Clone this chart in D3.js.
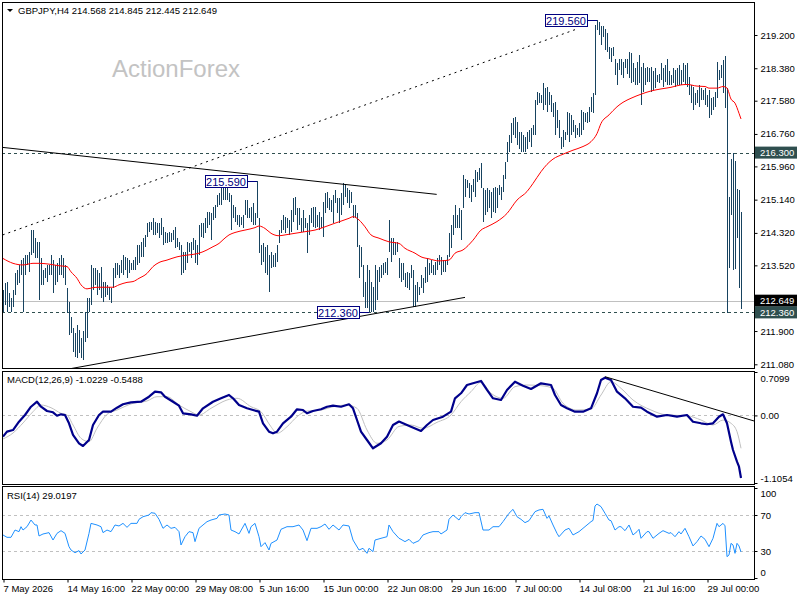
<!DOCTYPE html>
<html>
<head>
<meta charset="utf-8">
<title>GBPJPY H4</title>
<script src="https://d3js.org/d3.v7.min.js"></script>
<style>
  body { margin: 0; background: #fff; }
  svg text { font-family: "Liberation Sans", Arial, sans-serif; }
</style>
</head>
<body>
<svg width="800" height="600"></svg>
<script>
// ---- data ----
var symbolTitle = "GBPJPY,H4  214.568 214.845 212.445 212.649";

// H4 bar highs / lows, one per bar
var barHigh = [
  212.91, 213.08, 213.12, 212.83, 212.71, 212.91, 213.32, 213.41, 213.53, 213.65,
  213.69, 213.78, 213.78, 213.86, 214.39, 214.39, 214.19, 214.10, 214.10, 213.69,
  213.41, 213.45, 213.53, 213.53, 213.78, 213.65, 213.53, 213.57, 213.69, 213.78,
  213.69, 213.53, 212.95, 212.62, 212.25, 211.97, 211.84, 212.05, 211.93, 211.72,
  211.89, 212.38, 212.71, 212.71, 213.53, 213.45, 213.45, 213.41, 213.32, 213.49,
  213.12, 213.12, 213.04, 212.99, 212.95, 213.45, 213.57, 213.57, 213.53, 213.65,
  213.78, 213.73, 213.69, 213.65, 213.57, 213.65, 213.73, 214.02, 214.02, 214.10,
  214.19, 214.27, 214.56, 214.60, 214.60, 214.68, 214.60, 214.56, 214.56, 214.68,
  214.47, 214.35, 214.31, 214.35, 214.31, 214.39, 214.47, 214.19, 214.10, 214.02,
  213.86, 213.86, 214.10, 214.06, 214.10, 214.19, 214.15, 214.02, 214.52, 214.56,
  214.56, 214.68, 214.84, 214.84, 214.80, 214.97, 215.01, 215.26, 215.30, 215.42,
  215.54, 215.46, 215.42, 215.30, 215.26, 215.01, 214.97, 214.76, 214.76, 214.72,
  214.76, 215.13, 215.13, 214.93, 214.97, 215.05, 214.80, 215.59, 214.68, 214.02,
  214.06, 213.98, 214.02, 213.78, 213.86, 213.78, 213.82, 214.02, 214.39, 214.64,
  214.76, 214.72, 214.68, 214.64, 214.89, 215.17, 215.21, 214.93, 214.93, 214.68,
  214.89, 214.68, 214.56, 214.76, 214.93, 214.97, 214.97, 214.76, 214.84, 214.72,
  215.09, 215.30, 215.34, 215.17, 215.13, 215.26, 215.38, 215.17, 215.17, 215.30,
  215.54, 215.50, 215.42, 215.38, 215.34, 215.01, 215.01, 214.80, 214.02, 213.98,
  213.53, 213.12, 213.53, 213.41, 213.12, 212.99, 213.53, 213.41, 213.49, 213.53,
  213.57, 213.61, 213.69, 214.64, 214.19, 214.19, 214.10, 214.10, 213.69, 213.57,
  213.57, 213.32, 213.36, 213.32, 213.53, 213.41, 213.04, 213.12, 212.99, 213.28,
  213.20, 213.49, 213.69, 213.57, 213.65, 213.53, 213.61, 213.69, 213.78, 213.73,
  213.65, 213.65, 213.78, 214.31, 214.51, 214.76, 215.01, 214.76, 214.93, 214.89,
  215.75, 215.66, 215.62, 215.54, 215.50, 215.66, 215.87, 215.83, 215.91, 216.04,
  215.42, 215.38, 215.42, 215.38, 215.34, 215.42, 215.46, 215.42, 215.50, 215.46,
  215.75, 216.08, 216.57, 216.73, 217.02, 217.15, 217.19, 217.06, 216.82, 216.82,
  216.73, 216.69, 216.82, 216.86, 216.90, 216.98, 217.60, 217.80, 217.76, 217.72,
  218.01, 217.89, 217.93, 217.80, 217.72, 217.52, 217.56, 217.35, 217.10, 216.69,
  216.86, 216.82, 217.31, 217.27, 217.23, 217.10, 216.98, 216.90, 217.02, 217.35,
  217.31, 217.27, 217.31, 217.43, 217.68, 217.76, 219.45, 219.56, 219.53, 219.41,
  219.41, 219.36, 219.24, 218.91, 218.87, 218.91, 218.62, 218.50, 218.62, 218.62,
  218.54, 218.62, 218.62, 218.79, 218.75, 218.50, 218.38, 218.54, 218.71, 218.42,
  218.50, 218.38, 218.42, 218.38, 218.42, 218.30, 218.38, 218.21, 218.25, 218.50,
  218.38, 218.46, 218.62, 218.30, 218.21, 218.38, 218.34, 218.38, 218.46, 218.34,
  218.50, 218.46, 218.50, 218.17, 217.97, 217.93, 217.76, 217.84, 217.97, 217.89,
  217.84, 217.89, 217.72, 217.84, 217.64, 217.68, 217.80, 218.54, 218.34, 218.46,
  218.58, 218.68, 217.90, 215.20, 216.15, 216.30, 216.10, 215.40, 215.38, 214.845
];
var barLow = [
  212.37, 212.54, 212.36, 212.50, 212.37, 212.50, 212.79, 213.04, 213.08, 213.28,
  212.37, 213.28, 213.53, 213.36, 213.78, 213.82, 213.69, 213.69, 212.67, 213.04,
  213.04, 213.20, 213.12, 213.28, 213.28, 212.83, 213.04, 213.12, 213.28, 213.28,
  213.20, 213.04, 212.34, 211.80, 211.84, 211.39, 211.27, 211.23, 211.35, 211.23,
  211.19, 211.64, 211.72, 212.38, 212.54, 212.91, 213.04, 212.79, 212.91, 212.71,
  212.62, 212.75, 212.79, 212.67, 212.58, 212.95, 213.20, 213.28, 213.20, 213.32,
  213.28, 213.41, 213.20, 213.32, 213.41, 213.41, 213.41, 213.53, 213.57, 213.73,
  213.73, 213.98, 214.23, 214.35, 214.39, 214.27, 214.27, 214.31, 214.19, 214.27,
  214.02, 214.06, 214.06, 214.10, 214.10, 214.15, 213.94, 213.98, 213.90, 213.28,
  213.32, 213.41, 213.57, 213.86, 213.69, 213.90, 213.57, 213.53, 213.78, 214.23,
  214.19, 214.31, 214.43, 214.52, 214.15, 214.64, 214.68, 214.97, 215.01, 215.01,
  215.13, 215.13, 215.13, 215.09, 214.39, 214.68, 214.60, 214.52, 214.47, 214.52,
  214.43, 214.76, 214.68, 214.68, 214.60, 214.52, 214.52, 214.68, 213.82, 213.53,
  213.61, 213.32, 213.28, 212.87, 213.45, 213.49, 213.49, 213.61, 214.06, 214.31,
  214.39, 214.31, 214.43, 214.27, 214.35, 214.60, 214.76, 214.39, 214.52, 214.35,
  214.35, 214.43, 213.82, 214.27, 214.56, 214.47, 214.43, 214.47, 214.39, 214.43,
  214.23, 214.80, 214.93, 214.89, 214.84, 214.56, 215.05, 214.80, 214.56, 214.76,
  215.01, 215.21, 215.05, 214.93, 215.05, 214.68, 214.68, 213.98, 213.20, 213.49,
  212.75, 212.46, 212.46, 212.36, 212.38, 212.38, 212.42, 212.67, 213.12, 213.20,
  213.28, 213.32, 213.28, 213.86, 213.61, 213.78, 213.78, 213.86, 213.20, 213.12,
  213.16, 212.99, 212.95, 212.91, 213.20, 212.50, 212.50, 212.62, 212.79, 212.95,
  212.83, 213.08, 213.12, 213.28, 213.32, 213.28, 213.28, 213.41, 213.53, 213.28,
  213.36, 213.36, 213.53, 213.73, 213.94, 214.27, 214.43, 214.43, 214.43, 214.14,
  214.93, 215.21, 215.42, 215.17, 215.09, 215.34, 215.21, 215.58, 215.62, 215.42,
  214.60, 214.76, 214.84, 214.93, 214.68, 214.84, 214.80, 214.93, 215.25, 215.13,
  215.34, 215.66, 216.08, 216.32, 216.53, 216.73, 216.65, 216.49, 216.40, 216.32,
  216.32, 216.32, 216.40, 216.57, 216.45, 216.73, 216.73, 217.47, 217.52, 217.52,
  217.35, 217.47, 217.31, 217.47, 217.31, 217.19, 216.73, 216.90, 216.65, 216.40,
  216.45, 216.61, 216.73, 216.57, 216.73, 216.82, 216.65, 216.73, 216.69, 216.73,
  216.86, 217.06, 217.02, 217.06, 217.31, 217.27, 217.72, 219.32, 219.20, 218.95,
  219.16, 218.83, 218.79, 218.62, 218.54, 218.67, 218.21, 217.97, 218.34, 218.21,
  218.13, 218.38, 218.25, 218.13, 218.01, 218.05, 217.97, 217.97, 218.01, 217.47,
  217.80, 217.97, 218.05, 218.05, 217.80, 217.84, 217.89, 218.05, 218.01, 218.09,
  217.93, 218.05, 217.97, 217.97, 217.97, 218.01, 217.93, 217.97, 217.97, 217.97,
  218.05, 217.97, 217.93, 217.72, 217.52, 217.35, 217.47, 217.52, 217.43, 217.60,
  217.60, 217.47, 217.43, 217.15, 217.23, 217.35, 217.43, 217.65, 218.09, 218.13,
  217.76, 217.40, 212.34, 213.45, 214.75, 213.40, 213.42, 214.20, 212.95, 212.445
];

// red moving average, sampled at bar indices
var maIdx = [0, 5, 10, 15, 18, 23, 28, 32, 34, 37, 39, 42, 45, 48, 55, 58, 62, 65, 68, 72,
  75, 78, 82, 87, 90, 95, 98, 102, 105, 108, 110, 113, 116, 121, 126, 128, 131, 134, 138, 141,
  146, 151, 156, 161, 166, 169, 173, 175, 178, 181, 184, 188, 193, 198, 201, 206, 209, 213, 218, 223,
  226, 230, 235, 239, 242, 247, 252, 257, 262, 265, 269, 272, 275, 280, 285, 290, 294, 297, 299, 303,
  307, 310, 314, 319, 324, 329, 334, 339, 342, 347, 351, 353, 357, 360, 362, 364, 366, 368, 369];
var maVal = [213.69, 213.57, 213.53, 213.57, 213.57, 213.55, 213.51, 213.49, 213.36, 213.20,
  213.04, 212.94, 212.97, 212.98, 212.98, 213.04, 213.10, 213.12, 213.20, 213.32,
  213.49, 213.59, 213.65, 213.73, 213.76, 213.79, 213.82, 213.90, 213.98, 214.06,
  214.15, 214.27, 214.33, 214.39, 214.45, 214.49, 214.43, 214.31, 214.25, 214.27,
  214.31, 214.35, 214.39, 214.47, 214.56, 214.61, 214.68, 214.72, 214.64, 214.47,
  214.27, 214.19, 214.10, 214.06, 213.94, 213.82, 213.73, 213.68, 213.63, 213.65,
  213.82, 213.90, 214.14, 214.39, 214.47, 214.60, 214.80, 215.13, 215.34, 215.54,
  215.83, 216.01, 216.14, 216.26, 216.36, 216.45, 216.57, 216.77, 217.02, 217.23,
  217.43, 217.54, 217.64, 217.74, 217.82, 217.87, 217.91, 217.97, 217.98, 217.94,
  217.93, 217.89, 217.89, 217.93, 217.89, 217.62, 217.52, 217.27, 217.13];

// MACD(12,26,9) main and signal
var macdIdx = [0, 2, 5, 8, 11, 14, 17, 19, 22, 25, 27, 29, 31, 33, 35, 38, 40, 43, 45, 48,
  50, 54, 57, 60, 64, 69, 73, 76, 79, 81, 85, 88, 90, 94, 97, 100, 105, 109, 113, 115,
  118, 122, 125, 128, 130, 133, 135, 137, 140, 144, 147, 150, 152, 155, 159, 162, 165, 169, 173, 175,
  177, 179, 182, 185, 189, 192, 195, 198, 204, 209, 212, 215, 220, 224, 226, 229, 232, 235, 239, 242,
  245, 249, 252, 256, 260, 264, 269, 274, 276, 279, 282, 286, 290, 294, 297, 299, 301, 304, 307, 311,
  315, 319, 322, 327, 332, 337, 342, 345, 349, 352, 355, 358, 360, 362, 364, 365, 367, 368, 369];
var macdMain = [-0.348, -0.266, -0.239, -0.103, 0.007, 0.142, 0.224, 0.142, 0.072, 0.051,
  -0.005, 0.018, 0.007, -0.129, -0.320, -0.456, -0.500, -0.402, -0.157, 0.007,
  0.061, 0.061, 0.126, 0.182, 0.214, 0.224, 0.306, 0.388, 0.378, 0.306,
  0.224, 0.159, 0.034, 0.018, -0.005, 0.116, 0.224, 0.280, 0.334, 0.280,
  0.170, 0.116, 0.088, 0.061, -0.129, -0.266, -0.293, -0.266, -0.129, -0.021,
  0.100, 0.088, 0.035, 0.072, 0.100, 0.142, 0.159, 0.142, 0.182, 0.116,
  -0.075, -0.266, -0.402, -0.538, -0.456, -0.348, -0.157, -0.100, -0.185, -0.255,
  -0.157, -0.075, -0.021, 0.061, 0.280, 0.362, 0.497, 0.525, 0.563, 0.416,
  0.280, 0.252, 0.416, 0.551, 0.486, 0.432, 0.525, 0.497, 0.334, 0.170,
  0.116, 0.061, 0.061, 0.116, 0.362, 0.579, 0.617, 0.579, 0.388, 0.280,
  0.142, 0.126, 0.061, -0.021, 0.007, -0.021, 0.007, -0.103, -0.129, -0.145,
  -0.129, -0.021, 0.018, -0.129, -0.430, -0.566, -0.757, -0.839, -1.023];
var sigIdx = [0, 5, 10, 15, 19, 24, 29, 32, 35, 39, 43, 47, 52, 57, 65, 72, 77, 82, 88, 94,
  98, 104, 112, 117, 124, 129, 134, 137, 142, 147, 152, 159, 165, 172, 177, 182, 187, 192, 198, 204,
  210, 217, 224, 229, 234, 239, 244, 250, 256, 262, 269, 275, 280, 287, 294, 299, 304, 309, 315, 324,
  332, 342, 349, 355, 360, 364, 367, 369];
var sigVal = [-0.386, -0.288, -0.124, 0.061, 0.170, 0.126, 0.035, 0.007, -0.157, -0.374,
  -0.430, -0.211, 0.018, 0.088, 0.198, 0.236, 0.306, 0.306, 0.170, 0.061,
  0.007, 0.116, 0.252, 0.280, 0.142, 0.061, -0.185, -0.293, -0.185, -0.021,
  0.072, 0.088, 0.142, 0.170, 0.116, -0.239, -0.456, -0.402, -0.180, -0.157,
  -0.211, -0.113, 0.007, 0.224, 0.388, 0.541, 0.362, 0.280, 0.470, 0.497,
  0.486, 0.443, 0.198, 0.088, 0.105, 0.334, 0.551, 0.443, 0.252, 0.088,
  0.007, -0.005, -0.075, -0.157, -0.075, -0.129, -0.266, -0.538];
var macdLast = "-1.0229", signalLast = "-0.5488";

// RSI(14)
var rsiIdx = [0, 2, 4, 6, 8, 9, 10, 12, 14, 16, 17, 18, 20, 23, 25, 27, 29, 31, 33, 34,
  36, 38, 39, 41, 43, 44, 47, 49, 50, 52, 54, 56, 58, 60, 62, 64, 67, 68, 70, 73,
  74, 76, 78, 80, 82, 84, 86, 88, 89, 91, 93, 95, 96, 98, 100, 102, 104, 107, 108, 111,
  113, 114, 116, 118, 121, 123, 124, 126, 128, 129, 131, 133, 134, 137, 139, 142, 145, 148, 150, 152,
  154, 157, 159, 161, 163, 165, 168, 170, 173, 175, 178, 180, 182, 183, 185, 186, 189, 192, 193, 195,
  198, 199, 201, 203, 205, 208, 210, 213, 215, 218, 219, 222, 223, 225, 228, 229, 231, 233, 236, 238,
  240, 243, 245, 248, 250, 253, 255, 257, 259, 261, 263, 266, 268, 270, 272, 273, 275, 277, 278, 281,
  283, 285, 288, 290, 292, 294, 295, 296, 297, 299, 301, 303, 304, 306, 308, 309, 311, 313, 315, 317,
  318, 319, 322, 323, 325, 328, 330, 333, 334, 336, 338, 339, 341, 343, 345, 347, 349, 351, 353, 355,
  357, 358, 360, 361, 362, 363, 364, 365, 366, 367, 368, 369];
var rsiVal = [47.8, 45.2, 45.2, 53.3, 51.5, 57.0, 53.3, 57.0, 64.4, 58.9, 58.9, 46.7, 48.9, 50.4, 42.2, 49.6, 52.6, 49.6, 34.8, 31.1,
  28.1, 30.4, 26.7, 31.1, 49.6, 60.7, 58.9, 57.0, 50.4, 53.3, 51.5, 58.9, 57.8, 60.7, 56.3, 60.7, 60.7, 65.2, 68.1, 70.0,
  72.6, 71.9, 65.2, 55.2, 58.9, 55.2, 56.3, 51.5, 36.7, 45.9, 51.5, 50.4, 40.4, 55.2, 58.9, 62.6, 64.4, 66.3, 70.0, 71.1,
  70.0, 53.3, 51.5, 48.9, 60.7, 49.6, 57.0, 60.7, 45.9, 34.8, 39.3, 31.1, 38.5, 42.2, 54.1, 57.0, 57.0, 58.9, 53.3, 41.5,
  55.2, 55.2, 57.0, 60.0, 54.1, 58.9, 53.3, 58.9, 57.8, 42.2, 31.1, 33.0, 27.4, 33.0, 29.3, 42.2, 44.1, 45.9, 58.9, 51.5,
  44.1, 43.0, 40.4, 43.0, 38.5, 41.5, 47.8, 50.4, 51.5, 51.5, 48.9, 53.3, 65.2, 70.0, 64.4, 68.1, 72.6, 71.1, 72.6, 72.6,
  53.3, 53.3, 57.0, 57.0, 62.6, 71.9, 76.3, 68.1, 65.2, 61.5, 63.7, 73.7, 75.6, 76.3, 66.3, 68.9, 58.9, 49.6, 45.9, 53.3,
  55.2, 47.8, 51.5, 55.2, 58.9, 62.6, 64.0, 80.0, 82.2, 79.3, 71.9, 64.4, 63.7, 53.3, 57.0, 57.0, 52.6, 58.9, 47.8, 51.5,
  54.1, 44.1, 51.5, 51.5, 44.1, 49.6, 52.6, 49.6, 50.4, 45.9, 51.5, 48.9, 55.2, 45.9, 35.6, 40.4, 46.7, 43.0, 34.8, 44.1,
  60.7, 57.0, 60.7, 58.0, 23.7, 25.6, 38.5, 36.7, 27.4, 38.5, 35.6, 29.0];
var rsiLast = "29.0197";

// axis ticks
var priceTicks = [219.200, 218.380, 217.580, 216.760, 215.960, 215.140, 214.320, 213.520, 211.900, 211.080];
var timeIdx = [0, 32, 64, 96, 128, 160, 192, 224, 256, 288, 320, 352];
var timeLabels = ["7 May 2026", "14 May 16:00", "22 May 00:00", "29 May 08:00", "5 Jun 16:00",
  "15 Jun 00:00", "22 Jun 08:00", "29 Jun 16:00", "7 Jul 00:00", "14 Jul 08:00", "21 Jul 16:00", "29 Jul 00:00"];

// drawn objects: [bar1, price1, bar2, price2]
var channelLine = [-0.15, 214.27, 286.5, 219.34];
var upperTrend = [-0.5, 216.43, 216.85, 215.27];
var lowerTrend = [33.5, 210.97, 231, 212.73];
var macdTrend = [301, 0.633, 375.5, -0.091];
var levelLines = [216.30, 212.36];
var bidPrice = 212.649;
var pointLabels = [{bar: 127, price: 215.59}, {bar: 297, price: 219.56}, {bar: 183, price: 212.36}];

// ---- layout ----
var svg = d3.select("svg");
var L = 2, R = 754;
var mainTop = 2, mainBot = 368;
var macdTop = 371, macdBot = 484;
var rsiTop = 486, rsiBot = 579;

var x = d3.scaleLinear().domain([0, 369]).range([3, 741]);
var y = d3.scaleLinear().domain([211.08, 219.2]).range([364.3, 35]);
var yMacd = d3.scaleLinear().domain([-1.1054, 0.7099]).range([483, 372]);
var yRsi = d3.scaleLinear().domain([0, 100]).range([578, 488]);

var defs = svg.append("defs");
function clip(id, top, bot) {
  defs.append("clipPath").attr("id", id)
    .append("rect").attr("x", L + 0.5).attr("y", top + 0.5)
    .attr("width", R - L - 0.5).attr("height", bot - top - 0.5);
}
clip("cMain", mainTop, mainBot);
clip("cMacd", macdTop, macdBot);
clip("cRsi", rsiTop, rsiBot);

var cx = function(i) { return Math.round(x(i)) + 0.5; };

// ---- main panel ----
var gMain = svg.append("g").attr("clip-path", "url(#cMain)");

gMain.append("text")
  .attr("x", 112).attr("y", 77)
  .attr("font-size", 24).attr("fill", "#c3c3c3")
  .text("ActionForex");

// bid line behind the bars
gMain.append("line")
  .attr("x1", L).attr("x2", R)
  .attr("y1", Math.round(y(bidPrice)) + 0.5).attr("y2", Math.round(y(bidPrice)) + 0.5)
  .attr("stroke", "#c0c0c0");

gMain.selectAll(".level").data(levelLines).enter().append("line")
  .attr("x1", L).attr("x2", R)
  .attr("y1", function(d) { return Math.round(y(d)) + 0.5; })
  .attr("y2", function(d) { return Math.round(y(d)) + 0.5; })
  .attr("stroke", "#2f4f4f").attr("stroke-dasharray", "3,3");

gMain.selectAll(".bar").data(barHigh).enter().append("line")
  .attr("x1", function(d, i) { return cx(i); })
  .attr("x2", function(d, i) { return cx(i); })
  .attr("y1", function(d) { return y(d); })
  .attr("y2", function(d, i) { return y(barLow[i]); })
  .attr("stroke", "#174360").attr("stroke-width", 1)
  .attr("shape-rendering", "crispEdges");

var lineGen = d3.line()
  .x(function(d) { return x(d[0]); })
  .y(function(d) { return y(d[1]); })
  .curve(d3.curveMonotoneX);

gMain.append("path")
  .datum(d3.zip(maIdx, maVal))
  .attr("d", lineGen)
  .attr("fill", "none").attr("stroke", "#ff0000").attr("stroke-width", 1);

function segment(g, s, ys, dash) {
  g.append("line")
    .attr("x1", x(s[0])).attr("y1", ys(s[1]))
    .attr("x2", x(s[2])).attr("y2", ys(s[3]))
    .attr("stroke", "#000").attr("stroke-width", 1)
    .attr("stroke-dasharray", dash || null);
}
segment(gMain, channelLine, y, "2,4");
segment(gMain, upperTrend, y);
segment(gMain, lowerTrend, y);

// price labels of swing points
pointLabels.forEach(function(p) {
  var bx = x(p.bar), by = y(p.price);
  var g = gMain.append("g");
  g.append("line")
    .attr("x1", bx - 10).attr("x2", bx).attr("y1", Math.round(by) + 0.5).attr("y2", Math.round(by) + 0.5)
    .attr("stroke", "#000080");
  g.append("rect")
    .attr("x", Math.round(bx - 52) + 0.5).attr("y", Math.round(by - 6) + 0.5)
    .attr("width", 42).attr("height", 12)
    .attr("fill", "#fff").attr("stroke", "#000080");
  g.append("text")
    .attr("x", bx - 31).attr("y", by + 4.5)
    .attr("text-anchor", "middle").attr("font-size", 11).attr("fill", "#000080")
    .text(p.price.toFixed(3));
});

// ---- MACD panel ----
var gMacd = svg.append("g").attr("clip-path", "url(#cMacd)");
gMacd.append("line")
  .attr("x1", L).attr("x2", R)
  .attr("y1", Math.round(yMacd(0)) + 0.5).attr("y2", Math.round(yMacd(0)) + 0.5)
  .attr("stroke", "#c0c0c0").attr("stroke-dasharray", "3,3");

var macdLine = d3.line()
  .x(function(d) { return x(d[0]); })
  .y(function(d) { return yMacd(d[1]); });

gMacd.append("path").datum(d3.zip(sigIdx, sigVal))
  .attr("d", macdLine.curve(d3.curveMonotoneX)).attr("fill", "none")
  .attr("stroke", "#c0c0c0").attr("stroke-width", 1);
gMacd.append("path").datum(d3.zip(macdIdx, macdMain))
  .attr("d", macdLine.curve(d3.curveLinear)).attr("fill", "none")
  .attr("stroke", "#00008b").attr("stroke-width", 2.2).attr("stroke-linejoin", "round");
segment(gMacd, macdTrend, yMacd);

// ---- RSI panel ----
var gRsi = svg.append("g").attr("clip-path", "url(#cRsi)");
[70, 30].forEach(function(v) {
  gRsi.append("line")
    .attr("x1", L).attr("x2", R)
    .attr("y1", Math.round(yRsi(v)) + 0.5).attr("y2", Math.round(yRsi(v)) + 0.5)
    .attr("stroke", "#c0c0c0").attr("stroke-dasharray", "3,3");
});
gRsi.append("path").datum(d3.zip(rsiIdx, rsiVal))
  .attr("d", d3.line().x(function(d) { return x(d[0]); }).y(function(d) { return yRsi(d[1]); }))
  .attr("fill", "none").attr("stroke", "#1e90ff").attr("stroke-width", 1);

// ---- frames ----
[[mainTop, mainBot], [macdTop, macdBot], [rsiTop, rsiBot]].forEach(function(p) {
  svg.append("rect")
    .attr("x", L + 0.5).attr("y", p[0] + 0.5)
    .attr("width", R - L).attr("height", p[1] - p[0])
    .attr("fill", "none").attr("stroke", "#000");
});

// ---- axes ----
function styleAxis(g) {
  g.select(".domain").remove();
  g.selectAll("text").attr("font-size", 9.5).attr("fill", "#000")
    .attr("font-family", "Liberation Sans, Arial, sans-serif");
  g.selectAll("line").attr("stroke", "#000");
}

svg.append("g")
  .attr("transform", "translate(" + (R + 0.5) + ",0)")
  .call(d3.axisRight(y).tickValues(priceTicks).tickSize(3).tickPadding(3).tickFormat(d3.format(".3f")))
  .call(styleAxis);

var macdAxis = svg.append("g")
  .attr("transform", "translate(" + (R + 0.5) + ",0)")
  .call(d3.axisRight(yMacd).tickValues([0.7099, 0, -1.1054]).tickSize(3).tickPadding(3)
    .tickFormat(function(d) { return d === 0 ? "0.00" : d.toFixed(4); }))
  .call(styleAxis);
macdAxis.selectAll(".tick text").attr("y", function(d) { return d > 0 ? 6 : (d < 0 ? -5 : 0); });

var rsiAxis = svg.append("g")
  .attr("transform", "translate(" + (R + 0.5) + ",0)")
  .call(d3.axisRight(yRsi).tickValues([100, 70, 30, 0]).tickSize(3).tickPadding(3))
  .call(styleAxis);
rsiAxis.selectAll(".tick text").attr("y", function(d) { return d === 100 ? 5 : (d === 0 ? -6 : 0); });

var xAxis = svg.append("g")
  .attr("transform", "translate(0," + (rsiBot + 0.5) + ")")
  .call(d3.axisBottom(x).tickValues(timeIdx).tickSize(3).tickPadding(3)
    .tickFormat(function(d, i) { return timeLabels[i]; }))
  .call(styleAxis);
xAxis.selectAll(".tick text").attr("text-anchor", "start").attr("x", 0);
xAxis.selectAll(".tick line").attr("transform", "translate(0.5,0)");

// right-edge highlighted prices
function priceTag(price, fill) {
  var py = y(price);
  svg.append("rect")
    .attr("x", 755).attr("y", py - 6)
    .attr("width", 42).attr("height", 12).attr("fill", fill);
  svg.append("text")
    .attr("x", 760).attr("y", py + 3.5)
    .attr("font-size", 9.5).attr("fill", "#fff")
    .text(price.toFixed(3));
}
priceTag(levelLines[0], "#2f4f4f");
priceTag(bidPrice, "#000");
priceTag(levelLines[1], "#2f4f4f");

// ---- titles ----
svg.append("path").attr("d", "M7,9 L13,9 L10,12 Z").attr("fill", "#000");
svg.append("text").attr("x", 18).attr("y", 14).attr("font-size", 9.5).text(symbolTitle);
svg.append("text").attr("x", 7).attr("y", 383).attr("font-size", 9.5)
  .text("MACD(12,26,9) " + macdLast + " " + signalLast);
svg.append("text").attr("x", 7).attr("y", 499).attr("font-size", 9.5).text("RSI(14) " + rsiLast);
</script>
</body>
</html>
